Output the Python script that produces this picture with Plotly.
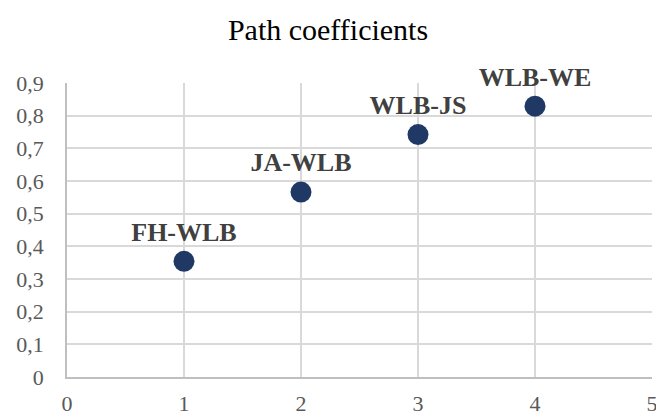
import plotly.graph_objects as go

labels = ["FH-WLB", "JA-WLB", "WLB-JS", "WLB-WE"]
x_vals = [1, 2, 3, 4]
y_vals = [0.354, 0.566, 0.742, 0.829]

fig = go.Figure()
fig.add_trace(go.Scatter(
    x=x_vals, y=y_vals, mode="markers+text",
    text=labels, textposition="top center",
    textfont=dict(family="Liberation Serif", size=26, color="#404040", weight="bold"),
    marker=dict(size=21, color="#1f3864"),
    cliponaxis=False, showlegend=False,
))

fig.update_layout(
    width=656, height=415,
    margin=dict(l=67, r=4, t=83, b=38, autoexpand=False),
    paper_bgcolor="white", plot_bgcolor="white",
    separators=", ",
    title=dict(text="Path coefficients", x=0.5, xanchor="center", y=0.93, yanchor="middle",
               font=dict(family="Liberation Serif", size=30, color="black")),
    font=dict(family="Liberation Serif", size=22, color="#595959"),
    xaxis=dict(range=[0, 5], dtick=1, showgrid=True, gridcolor="#d9d9d9", gridwidth=1.5,
               zeroline=False, showline=True, linecolor="#bfbfbf", linewidth=1.5,
               ticks="", ticklabelstandoff=6, ticklabeloverflow="allow", automargin=False),
    yaxis=dict(range=[0, 0.9], dtick=0.1, showgrid=True, gridcolor="#d9d9d9", gridwidth=1.5,
               zeroline=False, showline=True, linecolor="#bfbfbf", linewidth=1.5,
               ticks="", ticklabelstandoff=17, automargin=False),
)

fig.write_html("out.html", config={"displayModeBar": False},
               post_script="document.body.style.margin='0';")
